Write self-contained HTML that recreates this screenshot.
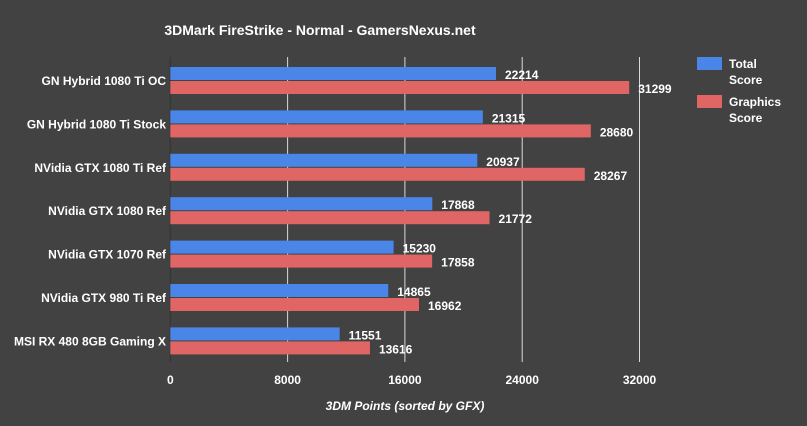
<!DOCTYPE html>
<html><head><meta charset="utf-8"><style>
body{margin:0;background:#424242;}
svg{display:block;font-family:"Liberation Sans",Arial,sans-serif;}
</style></head><body>
<svg id="c" width="807" height="426">
<rect width="807" height="426" fill="#424242"/>
<text x="320" y="35" fill="#fff" font-size="14" font-weight="bold" text-anchor="middle">3DMark FireStrike - Normal - GamersNexus.net</text>
<text x="405" y="410" fill="#fff" font-size="12" font-weight="bold" font-style="italic" text-anchor="middle">3DM Points (sorted by GFX)</text>
<g>
<rect x="697" y="57" width="25" height="13" fill="#4a86e8"/>
<text x="729" y="68" fill="#fff" font-size="12" font-weight="bold"><tspan x="729">Total</tspan><tspan x="729" dy="16">Score</tspan></text>
<rect x="697" y="95" width="25" height="13" fill="#e06666"/>
<text x="729" y="106" fill="#fff" font-size="12" font-weight="bold"><tspan x="729">Graphics</tspan><tspan x="729" dy="16">Score</tspan></text>
</g>
<g id="plot"></g>
</svg>
<script>
const categories=["GN Hybrid 1080 Ti OC","GN Hybrid 1080 Ti Stock","NVidia GTX 1080 Ti Ref","NVidia GTX 1080 Ref","NVidia GTX 1070 Ref","NVidia GTX 980 Ti Ref","MSI RX 480 8GB Gaming X"];
const totalScore=[22214,21315,20937,17868,15230,14865,11551];
const graphicsScore=[31299,28680,28267,21772,17858,16962,13616];
const ticks=[0,8000,16000,24000,32000];
const NS="http://www.w3.org/2000/svg";
const g=document.getElementById('plot');
const x0=170.3, pxPer=117.3/8000;
const xs=v=>x0+v*pxPer;
const rowY=i=>67+i*43.4;
function mk(t,a){const e=document.createElementNS(NS,t);for(const k in a)e.setAttribute(k,a[k]);g.appendChild(e);return e;}
ticks.forEach((t,i)=>{
 if(t>0){const l=mk('line',{x1:xs(t),x2:xs(t),y1:57,y2:362,stroke:'#d9d9d9','stroke-width':1});
 
 }
 const tx=mk('text',{x:xs(t),y:384,fill:'#fff','font-size':12,'font-weight':'bold','text-anchor':'middle'});
 tx.textContent=t;
 
 
});
const ax=mk('line',{x1:x0,x2:x0,y1:57,y2:362,stroke:'#333','stroke-width':1});


categories.forEach((c,i)=>{
 const y=rowY(i);
 const lb=mk('text',{x:166,y:y+18,fill:'#fff','font-size':12,'font-weight':'bold','text-anchor':'end'});
 lb.textContent=c;
 
 
 const b=mk('rect',{x:x0,y:y,width:xs(totalScore[i])-x0,height:13,fill:'#4a86e8'});
 
 
 const r=mk('rect',{x:x0,y:y+14,width:xs(graphicsScore[i])-x0,height:13,fill:'#e06666'});
 
 
 const tv=mk('text',{x:xs(totalScore[i])+9,y:y+12,fill:'#fff','font-size':12,'font-weight':'bold'});
 tv.textContent=totalScore[i];
 
 
 const gv=mk('text',{x:xs(graphicsScore[i])+9,y:y+26,fill:'#fff','font-size':12,'font-weight':'bold'});
 gv.textContent=graphicsScore[i];
 
 
});
</script>
</body></html>
